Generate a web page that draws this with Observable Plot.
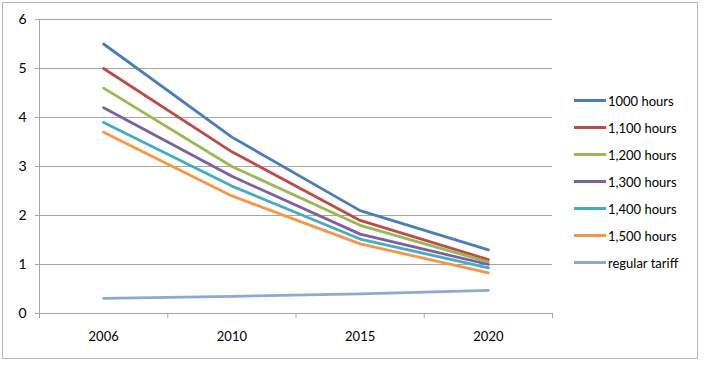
<!DOCTYPE html>
<html>
<head>
<meta charset="utf-8">
<script src="https://cdn.jsdelivr.net/npm/d3@7"></script>
<script src="https://cdn.jsdelivr.net/npm/@observablehq/plot@0.6"></script>
<style>
  html, body { margin: 0; padding: 0; background: #fff; }
  #wrap { position: relative; width: 705px; height: 366px; font-family: Lato, "Open Sans", sans-serif; }
  #border { position: absolute; left: 2px; top: 2px; width: 696px; height: 357px; border: 1px solid #b8b8b8; box-sizing: border-box; pointer-events: none; }
  #legend { position: absolute; left: 574px; top: 87px; font-size: 13px; color: #000; }
  .item { display: flex; align-items: center; height: 27px; }
  .sw { width: 32px; height: 3px; margin-right: 2px; }
  svg { position: absolute; left: 0; top: 0; }
</style>
</head>
<body>
<div id="wrap"><div id="border"></div><div id="legend"></div></div>
<script>
const years = ["2006", "2010", "2015", "2020"];
const seriesNames = ["1000 hours", "1,100 hours", "1,200 hours", "1,300 hours", "1,400 hours", "1,500 hours", "regular tariff"];
const h1000 = [5.5, 3.6, 2.1, 1.3];
const h1100 = [5.0, 3.3, 1.9, 1.1];
const h1200 = [4.6, 3.0, 1.8, 1.05];
const h1300 = [4.2, 2.8, 1.62, 1.0];
const h1400 = [3.9, 2.6, 1.52, 0.93];
const h1500 = [3.7, 2.4, 1.42, 0.83];
const regular = [0.31, 0.35, 0.4, 0.47];
const colors = ["#4A7EBB", "#BE4B48", "#98B954", "#7D60A0", "#46AAC5", "#F79646", "#8EA9D6"];
const yTicks = [0, 1, 2, 3, 4, 5, 6];

const allSeries = [h1000, h1100, h1200, h1300, h1400, h1500, regular];
const rows = [];
allSeries.forEach((vals, s) => vals.forEach((v, i) => rows.push({series: seriesNames[s], i, v})));
const idx = years.map((_, i) => i);
const edges = [-0.5, ...idx.map(i => i + 0.5)];

const chart = Plot.plot({
  width: 705, height: 366,
  marginLeft: 39, marginRight: 153, marginTop: 19, marginBottom: 53,
  style: {fontFamily: "Lato, 'Open Sans', sans-serif", fontSize: "13px", background: "transparent"},
  x: {type: "linear", domain: [-0.5, years.length - 0.5]},
  y: {domain: [0, 6]},
  color: {domain: seriesNames, range: colors},
  marks: [
    Plot.gridY(yTicks, {stroke: "#a6a6a6", strokeOpacity: 1, strokeWidth: 1}),
    Plot.axisY(yTicks, {tickSize: 4, tickPadding: 9, stroke: "#a6a6a6", label: null, fontSize: 14, fill: "#000"}),
    Plot.ruleX([-0.5], {stroke: "#a6a6a6"}),
    Plot.ruleY([0], {stroke: "#a6a6a6"}),
    Plot.axisX(edges, {tickSize: 5, tickFormat: () => "", stroke: "#a6a6a6", label: null}),
    Plot.axisX(idx, {tickSize: 0, tickPadding: 18, tickFormat: i => years[i], label: null, fontSize: 13, fill: "#000"}),
    Plot.line(rows, {x: "i", y: "v", z: "series", stroke: "series", strokeWidth: 2.8, curve: "linear"})
  ]
});
document.getElementById("wrap").appendChild(chart);

const legend = document.getElementById("legend");
seriesNames.forEach((n, k) => {
  const d = document.createElement("div");
  d.className = "item";
  d.innerHTML = `<span class="sw" style="background:${colors[k]}"></span><span>${n}</span>`;
  legend.appendChild(d);
});
</script>
</body>
</html>
